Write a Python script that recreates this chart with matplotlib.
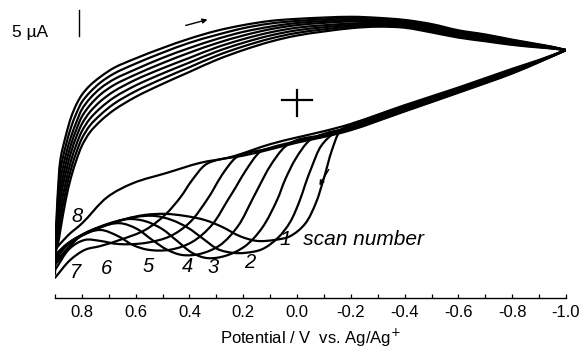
import matplotlib
matplotlib.use("Agg")
import matplotlib.pyplot as plt
import numpy as np
from matplotlib.path import Path
from matplotlib.patches import PathPatch

plt.rcParams['font.family'] = ['Liberation Sans', 'DejaVu Sans']
plt.rcParams['axes.unicode_minus'] = False

# forward (upper) branch, common potential grid, current in uA
up_v = [0.90, 0.89, 0.88, 0.86, 0.84, 0.82, 0.80, 0.77, 0.73, 0.68, 0.60, 0.50, 0.40, 0.30,
        0.20, 0.10, 0.00, -0.20, -0.30, -0.40, -0.50, -0.60, -0.70, -0.80, -0.90, -0.95, -1.00]
up_1 = [-29.5, -27.9, -25.0, -19.2, -14.8, -11.5, -8.8, -6.2, -4.0, -1.9, 0.6, 3.1, 5.4, 7.7,
        9.6, 11.2, 12.4, 13.8, 14.1, 13.9, 13.0, 12.0, 11.3, 10.6, 10.1, 9.9, 9.6]
up_2 = [-30.0, -26.5, -23.0, -17.5, -13.2, -10.0, -7.4, -4.9, -2.8, -0.7, 1.7, 4.1, 6.3, 8.5,
        10.3, 11.8, 12.9, 14.1, 14.3, 14.1, 13.2, 12.2, 11.5, 10.7, 10.2, 9.9, 9.6]
up_3 = [-30.5, -25.0, -21.0, -15.8, -11.6, -8.5, -6.0, -3.6, -1.5, 0.5, 2.8, 5.1, 7.2, 9.3,
        11.0, 12.4, 13.4, 14.4, 14.5, 14.3, 13.4, 12.4, 11.7, 10.9, 10.3, 10.0, 9.6]
up_4 = [-31.0, -23.5, -19.0, -14.0, -10.0, -7.0, -4.6, -2.3, -0.2, 1.7, 3.9, 6.1, 8.1, 10.1,
        11.7, 13.0, 13.9, 14.7, 14.8, 14.5, 13.6, 12.6, 11.9, 11.0, 10.4, 10.0, 9.6]
up_5 = [-31.5, -22.5, -17.5, -12.3, -8.5, -5.6, -3.2, -1.0, 1.1, 2.9, 4.9, 7.1, 9.1, 10.9,
        12.4, 13.6, 14.4, 15.1, 15.0, 14.7, 13.8, 12.8, 12.1, 11.2, 10.5, 10.1, 9.6]
up_6 = [-32.0, -21.0, -15.5, -10.6, -7.0, -4.2, -1.8, 0.3, 2.3, 4.0, 5.9, 8.1, 10.0, 11.7,
        13.1, 14.1, 14.8, 15.4, 15.3, 14.9, 14.0, 13.0, 12.3, 11.3, 10.5, 10.1, 9.6]
up_7 = [-33.5, -19.5, -13.5, -8.8, -5.2, -2.5, -0.4, 1.5, 3.4, 5.1, 7.0, 9.1, 11.0, 12.5,
        13.8, 14.7, 15.2, 15.7, 15.5, 15.1, 14.3, 13.2, 12.5, 11.5, 10.6, 10.2, 9.6]
up_8 = [-29.0, -18.3, -11.5, -6.9, -3.3, -0.8, 1.0, 2.8, 4.5, 6.2, 8.0, 10.0, 11.8, 13.3,
        14.4, 15.2, 15.6, 16.0, 15.8, 15.4, 14.6, 13.4, 12.6, 11.6, 10.7, 10.2, 9.6]

# reverse (lower) branches, each scan with its own potentials
lo_v1 = [-1.0, -0.9, -0.8, -0.6, -0.4, -0.27, -0.2, -0.16, -0.13, -0.10, -0.07, -0.03, 0.026,
         0.082, 0.149, 0.212, 0.279, 0.342, 0.416, 0.491, 0.565, 0.639, 0.714, 0.788, 0.851, 0.9]
lo_i1 = [9.6, 7.6, 5.8, 2.2, -1.2, -3.5, -4.7, -6.0, -9.6, -15.0, -19.8, -23.8, -26.2,
         -26.9, -27.1, -26.2, -24.4, -23.1, -22.3, -21.9, -22.1, -22.9, -24.2, -25.8, -27.5, -29.8]
lo_v2 = [-1.0, -0.9, -0.8, -0.6, -0.4, -0.2, -0.14, -0.09, -0.056, -0.03, -0.011, 0.026, 0.071,
         0.13, 0.193, 0.238, 0.294, 0.349, 0.405, 0.465, 0.528, 0.602, 0.677, 0.751, 0.825, 0.9]
lo_i2 = [9.6, 7.5, 5.6, 2.0, -1.4, -5.0, -6.3, -8.8, -12.7, -16.3, -19.2, -23.5, -26.5,
         -28.7, -29.4, -29.4, -28.7, -26.7, -24.6, -23.1, -22.3, -22.5, -23.5, -24.8, -26.7, -30.2]
lo_v3 = [-1.0, -0.9, -0.8, -0.6, -0.4, -0.2, -0.1, -0.048, 0.004, 0.045, 0.074, 0.13, 0.193,
         0.268, 0.335, 0.39, 0.446, 0.502, 0.565, 0.628, 0.703, 0.777, 0.844, 0.9]
lo_i3 = [9.6, 7.5, 5.5, 1.8, -1.6, -5.2, -6.5, -7.7, -11.2, -15.4, -19.2, -24.6, -28.1,
         -30.0, -30.4, -29.4, -27.1, -24.8, -23.3, -22.9, -23.8, -25.4, -27.3, -30.8]
lo_v4 = [-1.0, -0.9, -0.8, -0.6, -0.4, -0.2, -0.1, 0.0, 0.045, 0.1, 0.138, 0.167, 0.219,
         0.286, 0.361, 0.428, 0.483, 0.539, 0.595, 0.658, 0.732, 0.807, 0.9]
lo_i4 = [9.6, 7.4, 5.4, 1.7, -1.8, -5.4, -6.7, -7.7, -9.0, -12.7, -16.3, -19.2, -24.2,
         -27.9, -29.6, -29.8, -28.8, -26.9, -24.8, -23.7, -24.4, -26.2, -31.2]
lo_v5 = [-1.0, -0.9, -0.8, -0.6, -0.4, -0.2, -0.1, 0.0, 0.1, 0.138, 0.19, 0.227, 0.257,
         0.316, 0.39, 0.472, 0.554, 0.61, 0.665, 0.732, 0.807, 0.9]
lo_i5 = [9.6, 7.4, 5.3, 1.6, -1.9, -5.5, -6.8, -7.9, -9.2, -10.0, -13.5, -16.7, -19.2,
         -24.0, -27.3, -28.8, -28.8, -27.9, -26.2, -25.0, -26.3, -31.7]
lo_v6 = [-1.0, -0.9, -0.8, -0.6, -0.4, -0.2, -0.1, 0.0, 0.1, 0.201, 0.23, 0.279, 0.312,
         0.335, 0.398, 0.472, 0.565, 0.665, 0.732, 0.788, 0.844, 0.9]
lo_i6 = [9.6, 7.3, 5.2, 1.5, -2.1, -5.7, -7.0, -8.0, -9.3, -10.4, -11.2, -14.4, -17.3,
         -19.2, -23.5, -26.2, -27.5, -27.7, -27.1, -26.9, -28.5, -32.7]
lo_v7 = [-1.0, -0.9, -0.8, -0.6, -0.4, -0.2, -0.1, 0.0, 0.1, 0.2, 0.301, 0.342, 0.39,
         0.435, 0.491, 0.565, 0.658, 0.732, 0.788, 0.844, 0.9]
lo_i7 = [9.6, 7.3, 5.1, 1.4, -2.2, -5.8, -7.1, -8.2, -9.5, -10.7, -11.6, -12.5, -15.4,
         -18.8, -22.1, -25.0, -26.9, -28.1, -28.8, -30.8, -34.2]
lo_v8 = [-1.0, -0.9, -0.8, -0.6, -0.4, -0.2, -0.1, 0.0, 0.1, 0.249, 0.361, 0.483, 0.61,
         0.706, 0.799, 0.851, 0.9]
lo_i8 = [9.6, 7.7, 6.0, 2.4, -1.0, -4.6, -6.0, -7.2, -8.5, -11.0, -12.1, -14.0, -16.0,
         -18.7, -23.7, -26.0, -28.8]

upper = [up_1, up_2, up_3, up_4, up_5, up_6, up_7, up_8]
lower = [(lo_v1, lo_i1), (lo_v2, lo_i2), (lo_v3, lo_i3), (lo_v4, lo_i4),
         (lo_v5, lo_i5), (lo_v6, lo_i6), (lo_v7, lo_i7), (lo_v8, lo_i8)]

# scan number labels (potential, current)
scan_labels = ['2', '3', '4', '5', '6', '7', '8']
label_v = [0.175, 0.312, 0.409, 0.554, 0.710, 0.825, 0.818]
label_i = [-31.2, -32.3, -32.1, -32.1, -32.5, -33.1, -22.5]

tick_major = [0.8, 0.6, 0.4, 0.2, 0.0, -0.2, -0.4, -0.6, -0.8, -1.0]
tick_minor = [0.9, 0.7, 0.5, 0.3, 0.1, -0.1, -0.3, -0.5, -0.7, -0.9]

# roughly equal-aspect scaling so the smooth curve doesn't overshoot on steep parts
SX, SY = 269.0, 5.2


def smooth_path(xs, ys, alpha=0.5):
    # centripetal Catmull-Rom through the points, drawn as cubic Bezier segments
    p = np.column_stack([np.asarray(xs) * SX, np.asarray(ys) * SY])
    p = np.vstack([2 * p[0] - p[1], p, 2 * p[-1] - p[-2]])
    verts = [p[1]]
    codes = [Path.MOVETO]
    for k in range(1, len(p) - 2):
        p0, p1, p2, p3 = p[k - 1], p[k], p[k + 1], p[k + 2]
        d1 = max(np.linalg.norm(p1 - p0) ** alpha, 1e-6)
        d2 = max(np.linalg.norm(p2 - p1) ** alpha, 1e-6)
        d3 = max(np.linalg.norm(p3 - p2) ** alpha, 1e-6)
        b1 = (d1 ** 2 * p2 - d2 ** 2 * p0 + (2 * d1 ** 2 + 3 * d1 * d2 + d2 ** 2) * p1) / (3 * d1 * (d1 + d2))
        b2 = (d3 ** 2 * p1 - d2 ** 2 * p3 + (2 * d3 ** 2 + 3 * d3 * d2 + d2 ** 2) * p2) / (3 * d3 * (d3 + d2))
        verts += [b1, b2, p2]
        codes += [Path.CURVE4] * 3
    verts = np.array(verts) / [SX, SY]
    return Path(verts, codes)


fig = plt.figure(figsize=(5.85, 3.58), dpi=100)
ax = fig.add_axes([55 / 585, 60 / 358, 511 / 585, 298 / 358])

for ui, (lv, li) in zip(upper, lower):
    for xs, ys in [(up_v, ui), (lv, li)]:
        ax.add_patch(PathPatch(smooth_path(xs, ys), facecolor='none', edgecolor='black',
                               lw=1.6, capstyle='round', joinstyle='round'))

# zero cross
ax.plot([0.056, -0.056], [0, 0], color='black', lw=1.6)
ax.plot([0, 0], [1.9, -3.1], color='black', lw=1.6)

# sweep direction arrows
ax.annotate('', xy=(0.323, 15.6), xytext=(0.424, 14.2),
            arrowprops=dict(arrowstyle='-|>', color='black', lw=1.0, mutation_scale=7))
ax.annotate('', xy=(-0.078, -16.9), xytext=(-0.123, -12.9),
            arrowprops=dict(arrowstyle='-|>', color='black', lw=1.0, mutation_scale=7))

# current scale bar
ax.plot([0.81, 0.81], [12.3, 17.3], color='black', lw=1.0, clip_on=False)
ax.text(1.06, 13.0, '5 µA', fontsize=12.5, ha='left', va='center', clip_on=False)

ax.text(0.062, -26.9, '1  scan number', fontsize=15, style='italic', ha='left', va='center')
for s, v, i in zip(scan_labels, label_v, label_i):
    ax.text(v, i, s, fontsize=14.5, style='italic', ha='center', va='center', clip_on=False)

ax.set_xlim(0.9, -1.0)
ax.set_ylim(-38.08, 19.23)
for side in ['left', 'right', 'top']:
    ax.spines[side].set_visible(False)
ax.spines['bottom'].set_linewidth(1.0)
ax.set_yticks([])
ax.set_xticks(tick_major)
ax.set_xticklabels(['%.1f' % t for t in tick_major])
ax.set_xticks(tick_minor, minor=True)
ax.tick_params(axis='x', which='both', direction='in', length=3, width=0.9, pad=5, labelsize=12)
ax.set_xlabel('Potential / V  vs. Ag/Ag$^{+}$', fontsize=12, labelpad=5)
ax.patch.set_visible(False)

fig.savefig('out.png', dpi=100)
